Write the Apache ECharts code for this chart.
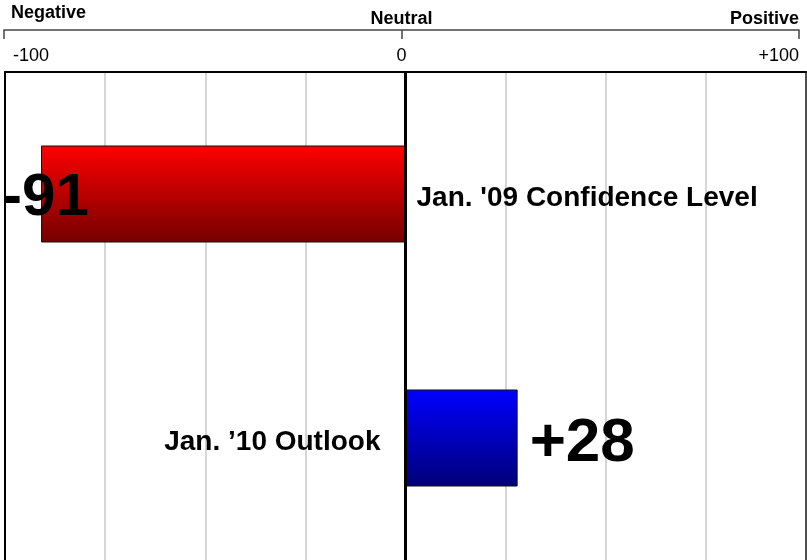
<!DOCTYPE html>
<html>
<head>
<meta charset="utf-8">
<script src="https://cdn.jsdelivr.net/npm/echarts@6/dist/echarts.min.js"></script>
<style>
html,body{margin:0;padding:0;background:#fff;}
#chart{width:807px;height:560px;}
</style>
</head>
<body>
<div id="chart"></div>
<script>
var categories = ["Jan. '09 Confidence Level", "Jan. \u201910 Outlook"];
var values = [-91, 28];
var tickValues = [-100, 0, 100];
var tickLabels = ['-100', '0', '+100'];
var scaleWords = ['Negative', 'Neutral', 'Positive'];

var FONT = 'Arial, "Liberation Sans", Helvetica, sans-serif';

function grad(top, bottom) {
  return new echarts.graphic.LinearGradient(0, 0, 0, 1, [
    {offset: 0, color: top}, {offset: 1, color: bottom}
  ]);
}
var barColors = [grad('#ff0000', '#740000'), grad('#0000ff', '#000078')];

function tickIdx(v) { return tickValues.indexOf(v); }

var barData = values.map(function (v, i) {
  return {
    value: v,
    itemStyle: {color: barColors[i]},
    label: v < 0
      ? {position: 'insideLeft', offset: [-44, 4], fontSize: 60}
      : {position: 'right', distance: 12, offset: [0, 6], fontSize: 62}
  };
});
var nameData = values.map(function (v) {
  return {
    value: v,
    label: v < 0 ? {position: 'right', distance: 11, offset: [0, 4]} : {position: 'left', distance: 25, offset: [0, 4]}
  };
});

var borderLine = {show: true, onZero: false, lineStyle: {color: '#000', width: 2}};

var chart = echarts.init(document.getElementById('chart'), null, {renderer: 'canvas'});
chart.setOption({
  animation: false,
  backgroundColor: '#fff',
  grid: [
    {left: 5, right: 1, top: 72, height: 489},
    {left: 4, right: 8, top: 30, height: 1}
  ],
  xAxis: [
    {
      gridIndex: 0, type: 'value', position: 'top', min: -100, max: 100, interval: 25,
      axisLine: borderLine, axisTick: {show: false}, axisLabel: {show: false},
      splitLine: {show: true, lineStyle: {color: '#c8c8c8', width: 1.5}}
    },
    {
      gridIndex: 1, type: 'value', position: 'top', min: -100, max: 100, interval: 100,
      axisLine: {show: true, onZero: false, lineStyle: {color: '#444', width: 1.5}},
      axisTick: {show: true, inside: true, length: 9, lineStyle: {color: '#444', width: 1.5}},
      splitLine: {show: false},
      axisLabel: {
        inside: true, margin: 17, color: '#000', fontSize: 18, fontFamily: FONT,
        showMinLabel: true, showMaxLabel: true,
        alignMinLabel: 'left', alignMaxLabel: 'right',
        formatter: function (v) {
          var i = tickIdx(v);
          if (i === 0) return '{a|' + tickLabels[i] + '}';
          return tickLabels[i];
        },
        rich: {
          a: {fontSize: 18, fontFamily: FONT, color: '#000', padding: [0, 0, 0, 9]}
        }
      }
    },
    {
      gridIndex: 1, type: 'value', position: 'top', min: -100, max: 100, interval: 100,
      axisLine: {show: false, onZero: false}, axisTick: {show: false}, splitLine: {show: false},
      axisLabel: {
        margin: 2, color: '#000', fontSize: 18, fontWeight: 'bold', fontFamily: FONT,
        showMinLabel: true, showMaxLabel: true,
        alignMinLabel: 'left', alignMaxLabel: 'right',
        formatter: function (v) {
          var i = tickIdx(v);
          if (i === 0) return '{n|' + scaleWords[i] + '}';
          return scaleWords[i];
        },
        rich: {n: {fontSize: 18, fontWeight: 'bold', fontFamily: FONT, color: '#000', padding: [0, 0, 6, 7]}}
      }
    }
  ],
  yAxis: [
    {gridIndex: 0, type: 'category', data: categories, inverse: true, position: 'left',
     axisLine: borderLine, axisTick: {show: false}, axisLabel: {show: false}, splitLine: {show: false}},
    {gridIndex: 1, type: 'value', show: false},
    {gridIndex: 0, type: 'category', data: categories, inverse: true, position: 'right',
     axisLine: {show: true, onZero: false, lineStyle: {color: '#222', width: 1.5}},
     axisTick: {show: false}, axisLabel: {show: false}, splitLine: {show: false}}
  ],
  series: [
    {
      name: 'names', type: 'bar', xAxisIndex: 0, yAxisIndex: 0,
      barWidth: 97, barGap: '-100%', z: 1, silent: true,
      itemStyle: {color: 'rgba(0,0,0,0)'},
      label: {show: true, formatter: '{b}', color: '#000', fontSize: 28, fontWeight: 'bold', fontFamily: FONT},
      data: nameData
    },
    {
      name: 'values', type: 'bar', xAxisIndex: 0, yAxisIndex: 0,
      barWidth: 97, barGap: '-100%', z: 2,
      itemStyle: {borderColor: '#111', borderWidth: 1},
      label: {
        show: true, color: '#000', fontWeight: 'bold', fontFamily: FONT,
        formatter: function (p) { return p.value > 0 ? '+' + p.value : String(p.value); }
      },
      data: barData,
      markLine: {
        silent: true, symbol: ['none', 'none'], label: {show: false},
        lineStyle: {color: '#000', width: 3, type: 'solid'},
        data: [{xAxis: 0}]
      }
    }
  ]
});
</script>
</body>
</html>
